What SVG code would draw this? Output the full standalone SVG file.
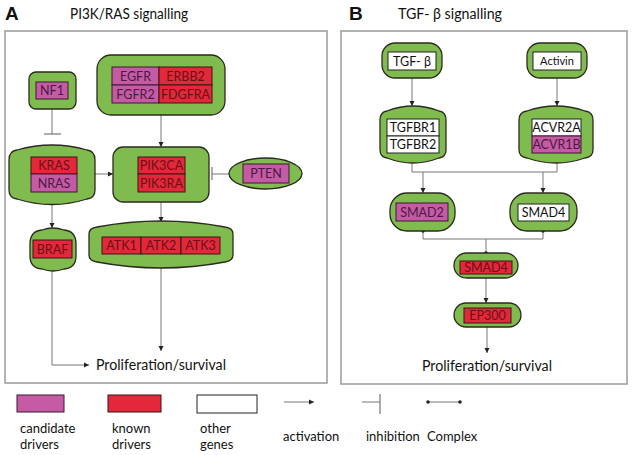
<svg xmlns="http://www.w3.org/2000/svg" width="634" height="455" viewBox="0 0 634 455">
<style>
.bg{fill:#ffffff}
.frame{fill:none;stroke:#9a9a9a;stroke-width:1.5}
.node{fill:#80bb4f;stroke:#2b2b1e;stroke-width:1.3}
.cand{fill:#c55aa5;stroke:#3a1830;stroke-width:1}
.known{fill:#e2283a;stroke:#3a1414;stroke-width:1}
.other{fill:#ffffff;stroke:#222222;stroke-width:1}
.lbl{font-family:Lato,"Liberation Sans",sans-serif;font-size:12.5px;text-anchor:middle}
.tc{fill:#4a1a42}
.tk{fill:#6a1015}
.to{fill:#111111}
.conn{fill:none;stroke:#777777;stroke-width:1}
.bar{fill:none;stroke:#777777;stroke-width:1.2}
.dot{fill:#222222}
.title{font-family:Lato,"Liberation Sans",sans-serif;font-size:14.5px;fill:#111111}
.big{font-family:"Liberation Sans",Arial,sans-serif;font-weight:bold;font-size:19px;fill:#111111}
.prol{font-family:Lato,"Liberation Sans",sans-serif;font-size:15.5px;fill:#111111}
.leg{font-family:Lato,"Liberation Sans",sans-serif;font-size:13px;fill:#111111}
</style>
<defs>
<marker id="arr" markerUnits="userSpaceOnUse" markerWidth="6" markerHeight="6" refX="5" refY="3" orient="auto">
<path d="M0,0.5 L5,3 L0,5.5 Z" fill="#222222"/>
</marker>
</defs>
<rect class="bg" x="0" y="0" width="634" height="455"/>

<text class="big" x="5" y="20">A</text>
<text class="title" x="70" y="19" textLength="118" lengthAdjust="spacingAndGlyphs">PI3K/RAS signalling</text>
<text class="big" x="349" y="20">B</text>
<text class="title" x="398" y="19" textLength="104" lengthAdjust="spacingAndGlyphs">TGF- β  signalling</text>

<rect class="frame" x="5" y="31" width="322" height="352"/>
<rect class="frame" x="341" y="31" width="286" height="353"/>

<g id="connectors">
<line class="conn" x1="161" y1="115" x2="161" y2="147" marker-end="url(#arr)"/>
<line class="conn" x1="52" y1="109" x2="52" y2="134"/>
<line class="bar" x1="44" y1="134" x2="61" y2="134"/>
<line class="conn" x1="95" y1="174" x2="113" y2="174" marker-end="url(#arr)"/>
<line class="conn" x1="229" y1="174" x2="212" y2="174"/>
<line class="bar" x1="212" y1="167" x2="212" y2="180"/>
<line class="conn" x1="161" y1="202" x2="161" y2="222" marker-end="url(#arr)"/>
<line class="conn" x1="52" y1="204" x2="52" y2="228" marker-end="url(#arr)"/>
<polyline class="conn" points="52,271 52,365 89,365" marker-end="url(#arr)"/>
<line class="conn" x1="161" y1="268" x2="161" y2="351" marker-end="url(#arr)"/>

<line class="conn" x1="412" y1="78" x2="412" y2="106" marker-end="url(#arr)"/>
<line class="conn" x1="557" y1="78" x2="557" y2="106" marker-end="url(#arr)"/>
<polyline class="conn" points="412,163 412,172 557,172 557,163"/>
<line class="conn" x1="423" y1="172" x2="423" y2="193" marker-end="url(#arr)"/>
<line class="conn" x1="543" y1="172" x2="543" y2="193" marker-end="url(#arr)"/>
<polyline class="conn" points="423,231 423,239 543,239 543,231"/>
<line class="conn" x1="486" y1="239" x2="486" y2="253"/>
<circle class="dot" cx="423" cy="231" r="1.8"/>
<circle class="dot" cx="543" cy="231" r="1.8"/>
<circle class="dot" cx="486" cy="253" r="1.8"/>
<line class="conn" x1="486" y1="278" x2="486" y2="303" marker-end="url(#arr)"/>
<line class="conn" x1="487" y1="327" x2="487" y2="353" marker-end="url(#arr)"/>
</g>

<g id="nf1">
<rect class="node" x="29" y="72" width="47" height="37" rx="7"/>
<rect class="cand" x="36" y="82" width="32" height="17"/>
<text class="lbl tc" x="52" y="95">NF1</text>
</g>

<g id="egfr">
<rect class="node" x="97" y="55" width="128" height="60" rx="14"/>
<rect class="cand" x="112" y="67" width="47" height="18"/>
<rect class="known" x="159" y="67" width="53" height="18"/>
<rect class="cand" x="112" y="85" width="47" height="18"/>
<rect class="known" x="159" y="85" width="53" height="18"/>
<text class="lbl tc" x="135.5" y="80.5">EGFR</text>
<text class="lbl tk" x="185.5" y="80.5">ERBB2</text>
<text class="lbl tc" x="135.5" y="98.5">FGFR2</text>
<text class="lbl tk" x="185.5" y="98.5">FDGFRA</text>
</g>

<g id="kras">
<path class="node" d="M9,160 L9,190 Q9,198 17,199 Q52,210 87,199 Q95,198 95,190 L95,160 Q95,151 87,150 Q52,140 17,150 Q9,151 9,160 Z"/>
<rect class="known" x="31" y="157" width="46" height="17"/>
<rect class="cand" x="31" y="174" width="46" height="18"/>
<text class="lbl tk" x="54" y="170">KRAS</text>
<text class="lbl tc" x="54" y="187.5">NRAS</text>
</g>

<g id="pik3">
<rect class="node" x="113" y="147" width="96" height="55" rx="10"/>
<rect class="known" x="138" y="157" width="47" height="17"/>
<rect class="known" x="138" y="174" width="47" height="18"/>
<text class="lbl tk" x="161.5" y="170">PIK3CA</text>
<text class="lbl tk" x="161.5" y="187.5">PIK3RA</text>
</g>

<g id="pten">
<ellipse class="node" cx="265.5" cy="173.5" rx="36.5" ry="15.5"/>
<rect class="cand" x="243" y="164" width="46" height="19"/>
<text class="lbl tc" x="266" y="178">PTEN</text>
</g>

<g id="atk">
<path class="node" d="M89,234 L89,255 Q89,261 97,262 Q161,274 225,262 Q233,261 233,255 L233,234 Q233,228 225,227 Q161,215 97,227 Q89,228 89,234 Z"/>
<rect class="known" x="102" y="237" width="39" height="17"/>
<rect class="known" x="141" y="237" width="40" height="17"/>
<rect class="known" x="181" y="237" width="39" height="17"/>
<text class="lbl tk" x="121.5" y="250">ATK1</text>
<text class="lbl tk" x="161" y="250">ATK2</text>
<text class="lbl tk" x="200.5" y="250">ATK3</text>
</g>

<g id="braf">
<path class="node" d="M30,244 L30,256 Q30,268 42,269 Q53,273 64,269 Q76,268 76,256 L76,244 Q76,231 64,230 Q53,226 42,230 Q30,231 30,244 Z"/>
<rect class="known" x="33" y="240" width="39" height="18"/>
<text class="lbl tk" x="52.5" y="253.5">BRAF</text>
</g>

<g id="prolif-a">
<text class="prol" x="96" y="370" textLength="130" lengthAdjust="spacingAndGlyphs">Proliferation/survival</text>
</g>

<g id="tgfb">
<rect class="node" x="382" y="43" width="60" height="35" rx="13"/>
<rect class="other" x="388" y="52" width="48" height="18"/>
<text class="lbl to" x="412" y="65.5">TGF- β</text>
</g>

<g id="activin">
<rect class="node" x="527" y="43" width="60" height="35" rx="13"/>
<rect class="other" x="533" y="52" width="48" height="18"/>
<text class="lbl to" x="557" y="65" style="font-size:11px">Activin</text>
</g>

<g id="tgfbr">
<path class="node" d="M380,120 L380,150 Q380,157 387,158 Q413,168 439,158 Q446,157 446,150 L446,120 Q446,112 439,111 Q413,101 387,111 Q380,112 380,120 Z"/>
<rect class="other" x="387" y="119" width="52" height="17"/>
<rect class="other" x="387" y="136" width="52" height="17"/>
<text class="lbl to" x="413" y="132">TGFBR1</text>
<text class="lbl to" x="413" y="149">TGFBR2</text>
</g>

<g id="acvr">
<path class="node" d="M519,120 L519,150 Q519,157 527,158 Q556,168 585,158 Q593,157 593,150 L593,120 Q593,112 585,111 Q556,101 527,111 Q519,112 519,120 Z"/>
<rect class="other" x="532" y="119" width="49" height="17"/>
<rect class="cand" x="532" y="136" width="49" height="17"/>
<text class="lbl to" x="556.5" y="132">ACVR2A</text>
<text class="lbl tc" x="556.5" y="149">ACVR1B</text>
</g>

<g id="smad2">
<rect class="node" x="390" y="193" width="65" height="38" rx="17"/>
<rect class="cand" x="396" y="203" width="52" height="18"/>
<text class="lbl tc" x="422" y="216.5">SMAD2</text>
</g>

<g id="smad4w">
<rect class="node" x="510" y="193" width="67" height="38" rx="17"/>
<rect class="other" x="518" y="204" width="51" height="17"/>
<text class="lbl to" x="543.5" y="217">SMAD4</text>
</g>

<g id="smad4r">
<rect class="node" x="454" y="253" width="64" height="25" rx="12.5"/>
<rect class="known" x="460" y="261" width="52" height="13"/>
<text class="lbl tk" x="486" y="272">SMAD4</text>
</g>

<g id="ep300">
<rect class="node" x="454" y="303" width="67" height="24" rx="12"/>
<rect class="known" x="464" y="308" width="47" height="15"/>
<text class="lbl tk" x="487.5" y="320">EP300</text>
</g>

<g id="prolif-b">
<text class="prol" x="422" y="371" textLength="130" lengthAdjust="spacingAndGlyphs">Proliferation/survival</text>
</g>

<g id="legend">
<rect class="cand" x="17" y="395" width="47" height="17"/>
<text class="leg" x="20" y="433">candidate</text>
<text class="leg" x="20" y="449">drivers</text>
<rect class="known" x="108" y="395" width="53" height="17"/>
<text class="leg" x="112" y="433">known</text>
<text class="leg" x="112" y="449">drivers</text>
<rect class="other" x="197" y="395" width="60" height="18"/>
<text class="leg" x="200" y="433">other</text>
<text class="leg" x="200" y="449">genes</text>
<line class="conn" x1="284" y1="402" x2="314" y2="402" marker-end="url(#arr)"/>
<text class="leg" x="283" y="441">activation</text>
<line class="conn" x1="362" y1="402" x2="380" y2="402"/>
<line class="bar" x1="380" y1="394" x2="380" y2="414"/>
<text class="leg" x="366" y="441">inhibition</text>
<line class="conn" x1="428" y1="402" x2="460" y2="402"/>
<circle class="dot" cx="428" cy="402" r="1.8"/>
<circle class="dot" cx="460" cy="402" r="1.8"/>
<text class="leg" x="427" y="441">Complex</text>
</g>
</svg>
